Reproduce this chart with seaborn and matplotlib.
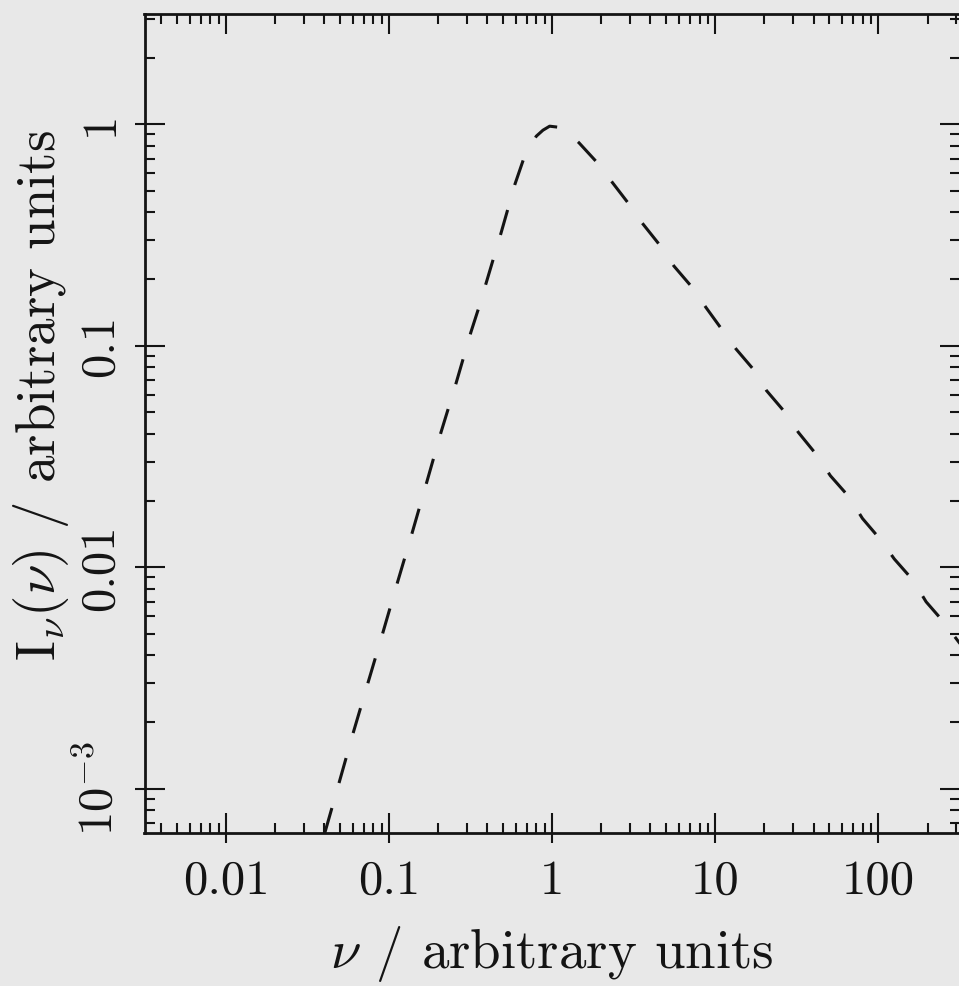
import matplotlib
matplotlib.use("Agg")
import matplotlib.pyplot as plt
import pandas as pd
import seaborn as sns
from matplotlib.ticker import FixedLocator, FixedFormatter, LogLocator, NullFormatter

# Spectrum: frequency (arbitrary units) and specific intensity (arbitrary units)
nu = [0.0403, 0.0489, 0.0601, 0.0740, 0.0912, 0.112, 0.138, 0.170, 0.208, 0.257,
      0.317, 0.356, 0.486, 0.590, 0.671, 0.798, 0.877, 0.964, 1.11, 1.26,
      1.46, 1.89, 2.34, 2.94, 3.55, 4.61, 5.57, 7.23, 8.75, 11.1,
      13.4, 17.4, 20.6, 26.7, 32.3, 42.0, 50.7, 65.9, 79.8, 104,
      125, 163, 196, 250, 316]
intensity = [0.000631, 0.00104, 0.00178, 0.00299, 0.00502, 0.00845, 0.0142, 0.0242, 0.0407, 0.0676,
             0.115, 0.150, 0.324, 0.535, 0.705, 0.883, 0.940, 0.980, 0.968, 0.912,
             0.824, 0.670, 0.545, 0.438, 0.359, 0.282, 0.229, 0.183, 0.149, 0.117,
             0.0966, 0.0771, 0.0627, 0.0501, 0.0406, 0.0320, 0.0259, 0.0208, 0.0166, 0.0132,
             0.0109, 0.00873, 0.00698, 0.00568, 0.00452]

x_ticks = [0.01, 0.1, 1, 10, 100]
x_tick_labels = ["0.01", "0.1", "1", "10", "100"]
y_ticks = [1e-3, 0.01, 0.1, 1]
y_tick_labels = [r"$10^{-3}$", "0.01", "0.1", "1"]

sns.set_theme(style="ticks")
plt.rcParams.update({
    "font.family": ["cmr10", "DejaVu Serif"],
    "mathtext.fontset": "cm",
    "axes.formatter.use_mathtext": True,
    "axes.unicode_minus": False,
})

PAPER = "#e8e8e8"
INK = "#141414"

fig = plt.figure(figsize=(9.59, 9.86), dpi=100, facecolor=PAPER)
ax = fig.add_axes([144.5 / 959, 153 / 986, 815.5 / 959, 819.5 / 986])
ax.set_facecolor(PAPER)

df = pd.DataFrame({"nu": nu, "intensity": intensity})
sns.lineplot(data=df, x="nu", y="intensity", ax=ax, color=INK, linewidth=2.2,
             estimator=None, sort=False)
ax.lines[0].set_linestyle((0, (8.5, 8.5)))

ax.set_xscale("log")
ax.set_yscale("log")
ax.set_xlim(10 ** -2.5, 10 ** 2.5)
ax.set_ylim(10 ** -3.2, 10 ** 0.5)

ax.xaxis.set_major_locator(FixedLocator(x_ticks))
ax.xaxis.set_major_formatter(FixedFormatter(x_tick_labels))
ax.yaxis.set_major_locator(FixedLocator(y_ticks))
ax.yaxis.set_major_formatter(FixedFormatter(y_tick_labels))
for axis in (ax.xaxis, ax.yaxis):
    axis.set_minor_locator(LogLocator(base=10, subs=range(2, 10), numticks=30))
    axis.set_minor_formatter(NullFormatter())

ax.tick_params(which="both", direction="in", top=True, right=True,
               color=INK, labelcolor=INK, width=1.5, labelsize=35)
ax.tick_params(which="major", length=14.5)
ax.tick_params(which="minor", length=7.5)
ax.tick_params(axis="x", pad=19)
ax.tick_params(axis="y", pad=15.5, labelrotation=90)
plt.setp(ax.get_yticklabels(), va="center")

for sp in ax.spines.values():
    sp.set_linewidth(2.0)
    sp.set_color(INK)

# outward stubs of the major ticks on the bottom and left axes
sec_x = ax.secondary_xaxis("bottom")
sec_x.set_xticks(x_ticks)
sec_x.tick_params(which="major", direction="out", length=7.2, width=1.5, color=INK,
                  labelbottom=False)
sec_x.tick_params(which="minor", length=0)
sec_x.spines["bottom"].set_visible(False)
sec_y = ax.secondary_yaxis("left")
sec_y.set_yticks(y_ticks)
sec_y.tick_params(which="major", direction="out", length=7.2, width=1.5, color=INK,
                  labelleft=False)
sec_y.tick_params(which="minor", length=0)
sec_y.spines["left"].set_visible(False)

ax.set_xlabel(r"$\nu$ / arbitrary units", fontsize=39.5, color=INK, va="baseline")
ax.xaxis.set_label_coords(0.5, -0.1647)
ax.set_ylabel(r"$\mathrm{I}_{\nu}(\nu)$ / arbitrary units", fontsize=39.5, color=INK,
              va="baseline")
ax.yaxis.set_label_coords(-0.110, 0.534)

fig.savefig("out.png", dpi=100, facecolor=PAPER)
